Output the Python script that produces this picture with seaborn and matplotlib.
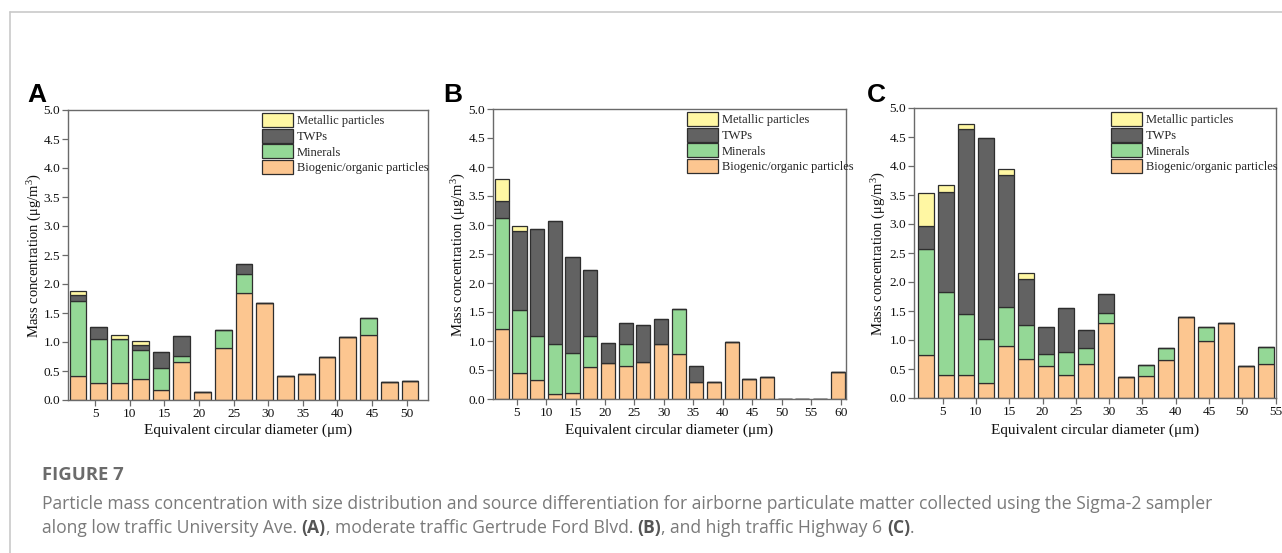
import numpy as np
import pandas as pd
import matplotlib
matplotlib.use("Agg")
import matplotlib.pyplot as plt
import seaborn as sns
from matplotlib.patches import Patch
from matplotlib.lines import Line2D

# ---------------- data ----------------
sources = ["Metallic particles", "TWPs", "Minerals", "Biogenic/organic particles"]
src_colors = ["#fff7a3", "#626262", "#94d896", "#fcc690"]

diam_A = [2.5, 5.5, 8.5, 11.5, 14.5, 17.5, 20.5, 23.5, 26.5, 29.5, 32.5, 35.5,
          38.5, 41.5, 44.5, 47.5, 50.5]
bio_A = [0.41, 0.29, 0.29, 0.37, 0.18, 0.66, 0.13, 0.90, 1.85, 1.68, 0.41, 0.45,
         0.74, 1.09, 1.12, 0.31, 0.32]
min_A = [1.30, 0.76, 0.77, 0.50, 0.37, 0.10, 0, 0.30, 0.32, 0, 0, 0, 0, 0, 0.29, 0, 0]
twp_A = [0.10, 0.21, 0, 0.08, 0.27, 0.34, 0, 0, 0.18, 0, 0, 0, 0, 0, 0, 0, 0]
met_A = [0.07, 0, 0.06, 0.07, 0, 0, 0, 0, 0, 0, 0, 0, 0, 0, 0, 0, 0]

diam_B = [2.5, 5.5, 8.5, 11.5, 14.5, 17.5, 20.5, 23.5, 26.5, 29.5, 32.5, 35.5,
          38.5, 41.5, 44.5, 47.5, 50.5, 53.5, 56.5, 59.5]
bio_B = [1.21, 0.44, 0.32, 0.09, 0.10, 0.55, 0.62, 0.57, 0.63, 0.94, 0.78, 0.29,
         0.30, 0.99, 0.35, 0.38, 0, 0, 0, 0.47]
min_B = [1.91, 1.10, 0.77, 0.85, 0.70, 0.54, 0, 0.37, 0, 0, 0.78, 0,
         0, 0, 0, 0, 0, 0, 0, 0]
twp_B = [0.30, 1.36, 1.84, 2.13, 1.65, 1.13, 0.34, 0.37, 0.64, 0.44, 0, 0.28,
         0, 0, 0, 0, 0, 0, 0, 0]
met_B = [0.38, 0.08, 0, 0, 0, 0, 0, 0, 0, 0, 0, 0, 0, 0, 0, 0, 0, 0, 0, 0]

diam_C = [2.5, 5.5, 8.5, 11.5, 14.5, 17.5, 20.5, 23.5, 26.5, 29.5, 32.5, 35.5,
          38.5, 41.5, 44.5, 47.5, 50.5, 53.5]
bio_C = [0.74, 0.40, 0.40, 0.26, 0.89, 0.68, 0.55, 0.40, 0.59, 1.29, 0.36, 0.38,
         0.65, 1.40, 0.98, 1.30, 0.56, 0.59]
min_C = [1.83, 1.43, 1.04, 0.76, 0.68, 0.58, 0.21, 0.39, 0.28, 0.18, 0, 0.19,
         0.22, 0, 0.24, 0, 0, 0.29]
twp_C = [0.40, 1.73, 3.19, 3.47, 2.28, 0.79, 0.47, 0.77, 0.31, 0.33, 0, 0,
         0, 0, 0, 0, 0, 0]
met_C = [0.56, 0.12, 0.09, 0, 0.10, 0.11, 0, 0, 0, 0, 0, 0, 0, 0, 0, 0, 0, 0]

xticks_A = [5, 10, 15, 20, 25, 30, 35, 40, 45, 50]
xticks_B = [5, 10, 15, 20, 25, 30, 35, 40, 45, 50, 55, 60]
xticks_C = [5, 10, 15, 20, 25, 30, 35, 40, 45, 50, 55]
yticks = [0.0, 0.5, 1.0, 1.5, 2.0, 2.5, 3.0, 3.5, 4.0, 4.5, 5.0]

panel_letters = ["A", "B", "C"]
xlabel = "Equivalent circular diameter (\u03bcm)"
ylabel = "Mass concentration (\u03bcg/m$^3$)"
caption_title = "FIGURE 7"
caption_line1 = [("Particle mass concentration with size distribution and source differentiation "
                  "for airborne particulate matter collected using the Sigma-2 sampler", False)]
caption_line2 = [("along low traffic University Ave. ", False), ("(A)", True),
                 (", moderate traffic Gertrude Ford Blvd. ", False), ("(B)", True),
                 (", and high traffic Highway 6 ", False), ("(C)", True), (".", False)]


def long_df(diam, bio, mi, twp, met):
    rows = []
    for name, vals in zip(sources, [met, twp, mi, bio]):
        for d, v in zip(diam, vals):
            rows.append({"diameter": d, "mass": v, "source": name})
    return pd.DataFrame(rows)


panels = [
    (long_df(diam_A, bio_A, min_A, twp_A, met_A), diam_A, xticks_A, (1.05, 53.1)),
    (long_df(diam_B, bio_B, min_B, twp_B, met_B), diam_B, xticks_B, (1.0, 60.9)),
    (long_df(diam_C, bio_C, min_C, twp_C, met_C), diam_C, xticks_C, (0.7, 55.05)),
]

# ---------------- figure ----------------
sns.set_theme(style="white")
plt.rcParams["font.family"] = ["Liberation Serif", "DejaVu Serif"]
plt.rcParams["mathtext.fontset"] = "custom"
plt.rcParams["mathtext.rm"] = "Liberation Serif"
plt.rcParams["mathtext.it"] = "Liberation Serif:italic"

W, H = 1282, 553
fig = plt.figure(figsize=(W / 100, H / 100), dpi=100)

# page frame lines
fig.add_artist(Line2D([10 / W, 1], [1 - 12 / H, 1 - 12 / H], color="#c9c9c9", lw=1.2,
                      transform=fig.transFigure))
fig.add_artist(Line2D([10 / W, 10 / W], [0, 1 - 12 / H], color="#c9c9c9", lw=1.2,
                      transform=fig.transFigure))

boxes = [(68, 428, 110, 400), (493, 846, 109, 399), (914, 1276, 108, 398)]
leg_pos = [(262, 113), (687, 112), (1111, 112)]
ylab_x = [35, 459, 879]
letter_x = [27, 443, 867]
spine_c = "#6a6a6a"
palette = dict(zip(sources, src_colors))

for i, (df, diam, xt, xl) in enumerate(panels):
    l, r, t, b = boxes[i]
    ax = fig.add_axes([l / W, 1 - b / H, (r - l) / W, (b - t) / H])
    edges = [float(d) - 1.5 for d in diam] + [float(diam[-1]) + 1.5]
    sns.histplot(data=df, x="diameter", weights="mass", hue="source",
                 hue_order=sources, palette=palette, multiple="stack",
                 bins=edges, shrink=0.8, alpha=1, edgecolor="#2e2e2e",
                 linewidth=0.9, legend=False, ax=ax)
    ax.set_xlim(*xl)
    ax.set_ylim(0, 5.0)
    ax.set_xticks(xt)
    ax.set_xticklabels([str(v) for v in xt])
    ax.set_yticks(yticks)
    ax.set_yticklabels([f"{v:.1f}" for v in yticks])
    for s in ax.spines.values():
        s.set_visible(True)
        s.set_color(spine_c)
        s.set_linewidth(1.0)
    ax.tick_params(axis="both", direction="out", length=4, width=0.9, color=spine_c,
                   labelsize=9.6, labelcolor="#111111", pad=1.5, bottom=True, left=True)
    ax.set_xlabel(xlabel, fontsize=11, color="#111111")
    ax.set_ylabel(ylabel, fontsize=10.5, color="#111111")
    ax.xaxis.set_label_coords(0.5, (b - 430) / (b - t))
    ax.yaxis.set_label_coords((ylab_x[i] - l) / (r - l), 0.5)
    ax.xaxis.label.set_va("center")
    ax.yaxis.label.set_va("center")

    handles = [Patch(facecolor=c, edgecolor="#2e2e2e", linewidth=0.9) for c in src_colors]
    lx, ly = leg_pos[i]
    ax.legend(handles, sources, loc="upper left",
              bbox_to_anchor=((lx - l) / (r - l), (b - ly) / (b - t)),
              frameon=False, fontsize=9, handlelength=2.5, handleheight=1.35,
              handletextpad=0.3, labelspacing=0.12, borderpad=0, borderaxespad=0)

    fig.text(letter_x[i] / W, 1 - 102 / H, panel_letters[i], family="Liberation Sans",
             fontweight="bold", fontsize=19, va="baseline", ha="left", color="#000000")

# ---------------- caption ----------------
cap_font = ["Open Sans", "DejaVu Sans"]
fig.text(42 / W, 1 - 475 / H, caption_title, family=cap_font, fontweight="bold",
         fontsize=13.3, color="#6b6b6b", va="center", ha="left")

renderer = fig.canvas.get_renderer()


def draw_line(pieces, y_px, x_px=42, size=12.65):
    x = x_px
    for txt, bold in pieces:
        tt = fig.text(x / W, 1 - y_px / H, txt, family=cap_font,
                      fontweight="bold" if bold else "normal", fontsize=size,
                      color="#555555" if bold else "#7a7a7a", va="center", ha="left")
        bb = tt.get_window_extent(renderer=renderer)
        x += bb.width


draw_line(caption_line1, 504)
draw_line(caption_line2, 528)

fig.savefig("out.png", dpi=100)
